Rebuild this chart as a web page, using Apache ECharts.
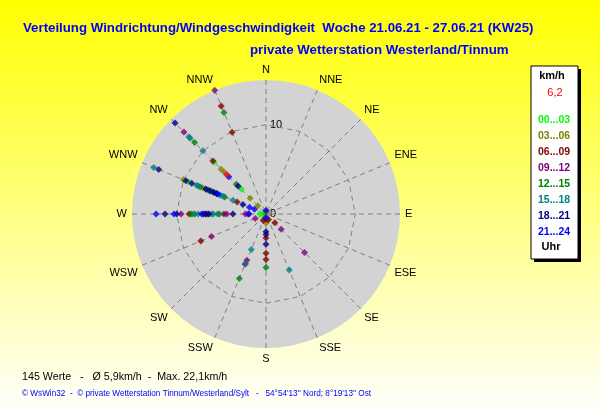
<!DOCTYPE html>
<html>
<head>
<meta charset="utf-8">
<script src="https://cdn.jsdelivr.net/npm/echarts@6/dist/echarts.min.js"></script>
<style>html,body{margin:0;padding:0;}#c{width:600px;height:415px;}</style>
</head>
<body>
<div id="c"></div>
<script>
// Directions (compass categories), clockwise from North
const directions = ["N","NNE","NE","ENE","E","ESE","SE","SSE","S","SSW","SW","WSW","W","WNW","NW","NNW"];
// Radial tick labels
const radiusTicks = [0, 10];
const radiusMax = 15;
// Hour groups (legend)
const hourGroups = ["00...03","03...06","06...09","09...12","12...15","15...18","18...21","21...24"];
const groupColors = ["#00ff00","#808000","#800000","#800080","#008000","#008080","#000080","#0000ff"];
// Points per hour group: [direction, speed km/h]
const h00_03 = [["NW",8.2],["NW",3.9],["WNW",9.4],["W",8.4],["W",0.7],["W",0.3],["N",0.2]];
const h03_06 = [["NW",7.1],["NW",6.6],["NW",2.5],["NW",1.3],["WNW",10.0],["WNW",7.7],["WNW",6.5],["W",8.0],["W",0.0],["S",1.0],["N",0.3]];
const h06_09 = [["NNW",13.1],["NNW",9.9],["NW",8.4],["WNW",3.5],["WNW",6.0],["W",8.6],["W",6.8],["W",4.7],["WSW",7.9],["S",0.6],["SSE",0.7],["SE",1.4],["S",2.7],["S",4.4],["S",5.1],["SSW",0.8]];
const h09_12 = [["NNW",15.0],["NW",13.0],["W",9.5],["W",4.4],["W",2.3],["W",2.0],["W",6.5],["WSW",6.6],["WSW",1.3],["SE",2.4],["SE",6.1],["SSW",5.6],["SSW",6.1]];
const h12_15 = [["NNW",12.3],["NW",11.3],["NW",4.7],["WNW",8.0],["WNW",7.2],["WNW",6.4],["WNW",5.0],["W",8.3],["W",5.4],["S",6.0],["SSW",7.8]];
const h15_18 = [["NW",12.2],["NW",12.0],["NW",10.0],["WNW",13.6],["WNW",8.4],["WNW",8.2],["WNW",7.0],["WNW",6.7],["WNW",5.5],["WNW",5.2],["WNW",4.0],["W",8.0],["W",7.6],["W",6.1],["W",5.9],["W",5.2],["SSW",4.3],["SSW",6.0],["SSE",6.8]];
const h18_21 = [["NW",14.4],["NW",4.4],["WNW",13.0],["WNW",9.7],["WNW",9.0],["WNW",7.3],["WNW",6.8],["WNW",6.3],["WNW",6.0],["WNW",2.8],["W",11.3],["W",7.0],["W",6.7],["W",6.4],["W",3.7],["W",10.0],["S",2.0],["S",2.3],["S",3.4]];
const h21_24 = [["NW",5.9],["WNW",5.8],["WNW",2.0],["WNW",1.4],["W",12.3],["W",10.3],["W",1.9],["W",7.2],["S",0.4],["N",0.4]];
const currentValue = [["NW",6.2]];
const groupData = [h00_03,h03_06,h06_09,h09_12,h12_15,h15_18,h18_21,h21_24];

const step = 360 / directions.length;
const ang = d => directions.indexOf(d) * step;
const toPolar = arr => arr.map(p => [p[1], ang(p[0])]);

const polarCenter = [266, 214];
const polarRadius = 134;

const series = [];
groupData.forEach((g, i) => {
  series.push({
    name: hourGroups[i], type: 'scatter', coordinateSystem: 'polar', data: toPolar(g),
    symbol: 'diamond', symbolSize: 7, itemStyle: {color: groupColors[i]}, z: 3
  });
});
series.push({name: 'aktuell', type: 'scatter', coordinateSystem: 'polar', data: toPolar(currentValue),
  symbol: 'diamond', symbolSize: 7, itemStyle: {color: '#ff0000'}, z: 4});

const chart = echarts.init(document.getElementById('c'), null, {renderer: 'canvas'});
const F = 'Liberation Sans, Arial, sans-serif';
chart.setOption({
  animation: false,
  backgroundColor: {type: 'linear', x: 0, y: 0, x2: 0, y2: 1, colorStops: [{offset: 0, color: '#ffff00'}, {offset: 1, color: '#ffffff'}]},
  title: [
    {text: 'Verteilung Windrichtung/Windgeschwindigkeit  Woche 21.06.21 - 27.06.21 (KW25)', left: 18, top: 17,
     textStyle: {color: '#0000ff', fontSize: 13.25, fontWeight: 'bold', fontFamily: F}},
    {text: 'private Wetterstation Westerland/Tinnum', left: 245, top: 39,
     textStyle: {color: '#0000ff', fontSize: 13.3, fontWeight: 'bold', fontFamily: F}}
  ],
  polar: {center: polarCenter, radius: polarRadius},
  // 16-sided dashed ring at the 10 km/h tick
  radar: {
    center: polarCenter, radius: polarRadius * radiusTicks[1] / radiusMax, startAngle: 90,
    shape: 'polygon', splitNumber: 1, z: 2, silent: true,
    indicator: directions.map(() => ({name: '', max: radiusTicks[1]})),
    axisName: {show: false}, axisLine: {show: false}, axisTick: {show: false}, axisLabel: {show: false},
    splitArea: {show: false},
    splitLine: {show: true, lineStyle: {color: '#808080', type: [5,4], width: 1}}
  },
  angleAxis: {
    type: 'value', min: 0, max: 360, interval: step, startAngle: 90, clockwise: true,
    axisLine: {show: false}, axisTick: {show: false},
    axisLabel: {color: '#000', fontSize: 11, fontFamily: F, margin: 5,
      formatter: v => v >= 360 ? '' : directions[Math.round(v / step) % directions.length]},
    splitLine: {show: true, lineStyle: {color: '#808080', type: [5,4], width: 1}},
    z: 1
  },
  radiusAxis: {
    type: 'value', min: 0, max: radiusMax, interval: radiusTicks[1] - radiusTicks[0],
    axisLine: {show: false}, axisTick: {show: false}, splitLine: {show: false},
    splitArea: {show: true, areaStyle: {color: ['#d3d3d3']}},
    axisLabel: {color: '#000', fontSize: 11, fontFamily: F, align: 'left', margin: -4,
      formatter: v => radiusTicks.includes(v) ? String(v) : ''},
    z: 0
  },
  legend: {
    orient: 'vertical', left: 528, top: 109.5, itemWidth: 0, itemHeight: 0, itemGap: 5,
    data: hourGroups.map((n, i) => ({name: n, icon: 'rect', textStyle: {color: groupColors[i]}})),
    textStyle: {fontSize: 10.5, fontWeight: 'bold', fontFamily: F, padding: 0, lineHeight: 11}, selectedMode: false
  },
  graphic: [
    {type: 'rect', shape: {x: 534, y: 69, width: 47, height: 193}, style: {fill: '#000'}, z: 0},
    {type: 'rect', shape: {x: 531, y: 66, width: 47, height: 193}, style: {fill: '#fff', stroke: '#000', lineWidth: 1}, z: 1},
    {type: 'text', x: 552, y: 76, style: {text: 'km/h', fill: '#000', font: 'bold 11px ' + F, align: 'center', verticalAlign: 'middle'}, z: 2},
    {type: 'text', x: 555, y: 93, style: {text: '6,2', fill: '#ff0000', font: '11px ' + F, align: 'center', verticalAlign: 'middle'}, z: 2},
    {type: 'text', x: 551, y: 247, style: {text: 'Uhr', fill: '#000', font: 'bold 11px ' + F, align: 'center', verticalAlign: 'middle'}, z: 2},
    {type: 'text', x: 22, y: 377, style: {text: '145 Werte   -   Ø 5,9km/h  -  Max. 22,1km/h', fill: '#000', font: '10.7px ' + F, verticalAlign: 'middle'}, z: 2},
    {type: 'text', x: 22, y: 394, style: {text: "© WsWin32  -  © private Wetterstation Tinnum/Westerland/Sylt   -   54°54'13'' Nord; 8°19'13'' Ost", fill: '#0000ff', font: '8.2px ' + F, verticalAlign: 'middle'}, z: 2}
  ],
  series: series
});
</script>
</body>
</html>
